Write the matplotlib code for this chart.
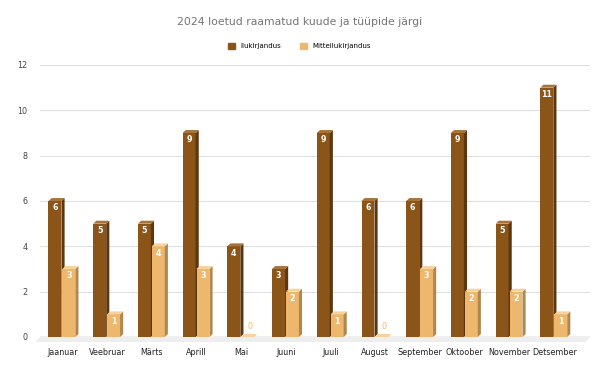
import numpy as np
import matplotlib.pyplot as plt
from matplotlib.patches import Polygon, Patch

# Andmed
kuud = ['Jaanuar', 'Veebruar', 'Märts', 'Aprill', 'Mai', 'Juuni', 'Juuli',
        'August', 'September', 'Oktoober', 'November', 'Detsember']
ilukirjandus = [6, 5, 5, 9, 4, 3, 9, 6, 6, 9, 5, 11]
mitteilukirjandus = [3, 1, 4, 3, 0, 2, 1, 0, 3, 2, 2, 1]

fig = plt.figure(figsize=(5.99, 3.70), dpi=100)
ax = fig.add_axes([40/599, 1-337/370, 550/599, (337-65)/370])

x = np.arange(len(kuud))
w = 0.29
dx, dy = 0.07, 0.13

varvid = [('#8B5418', '#5C360E', '#A7733A'),
          ('#EDB86E', '#B0884F', '#F6D29C')]

# põrand
ax.add_patch(Polygon([(-0.5, -0.0), (11.8, 0.0), (11.8 - 0.1, -0.22), (-0.5 - 0.1, -0.22)],
                     closed=True, facecolor='#EEEEEE', edgecolor='none', zorder=1, clip_on=False))
ax.axhline(0, color='#BDBDBD', lw=1.0, zorder=1.5)

for i, (vals, nihe) in enumerate([(ilukirjandus, -0.31), (mitteilukirjandus, 0.0)]):
    front, side, top = varvid[i]
    ax.bar(x + nihe, vals, width=w, align='edge', color=front, zorder=3)
    for xi, v in zip(x + nihe, vals):
        ax.add_patch(Polygon([(xi + w, 0), (xi + w + dx, dy), (xi + w + dx, v + dy), (xi + w, v)],
                             closed=True, facecolor=side, edgecolor='none', zorder=3))
        ax.add_patch(Polygon([(xi, v), (xi + dx, v + dy), (xi + w + dx, v + dy), (xi + w, v)],
                             closed=True, facecolor=top, edgecolor='none', zorder=3))
        if v > 0:
            ax.text(xi + w / 2, v - 0.3, str(v), ha='center', va='center', color='white',
                    fontsize=5.8, fontweight='bold', zorder=4)
        else:
            ax.text(xi + w / 2 + 0.05, 0.45, str(v), ha='center', va='center', color=front,
                    fontsize=5.8, zorder=4)

ax.set_xlim(-0.5, 11.8)
ax.set_ylim(0, 12)
ax.set_yticks(range(0, 13, 2))
ax.set_xticks(x)
ax.set_xticklabels(kuud, fontsize=5.8, color='#222222')
ax.tick_params(axis='x', length=0, pad=8)
ax.tick_params(axis='y', length=0, labelsize=5.8, labelcolor='#444444', pad=9)
ax.grid(axis='y', color='#E0E0E0', lw=0.8, zorder=0)
ax.set_axisbelow(True)
for s in ax.spines.values():
    s.set_visible(False)

fig.text(0.5, 1-22/370, '2024 loetud raamatud kuude ja tüüpide järgi', ha='center', va='center',
         fontsize=7.8, color='#757575')
fig.legend(handles=[Patch(color=varvid[0][0], label='Ilukirjandus'),
                    Patch(color=varvid[1][0], label='Mitteilukirjandus')],
           loc='center', bbox_to_anchor=(0.5, 1-46/370), ncol=2, frameon=False,
           fontsize=5, handlelength=1.0, handleheight=1.0, columnspacing=2.6, handletextpad=0.8)

fig.savefig('out.png', dpi=100)
